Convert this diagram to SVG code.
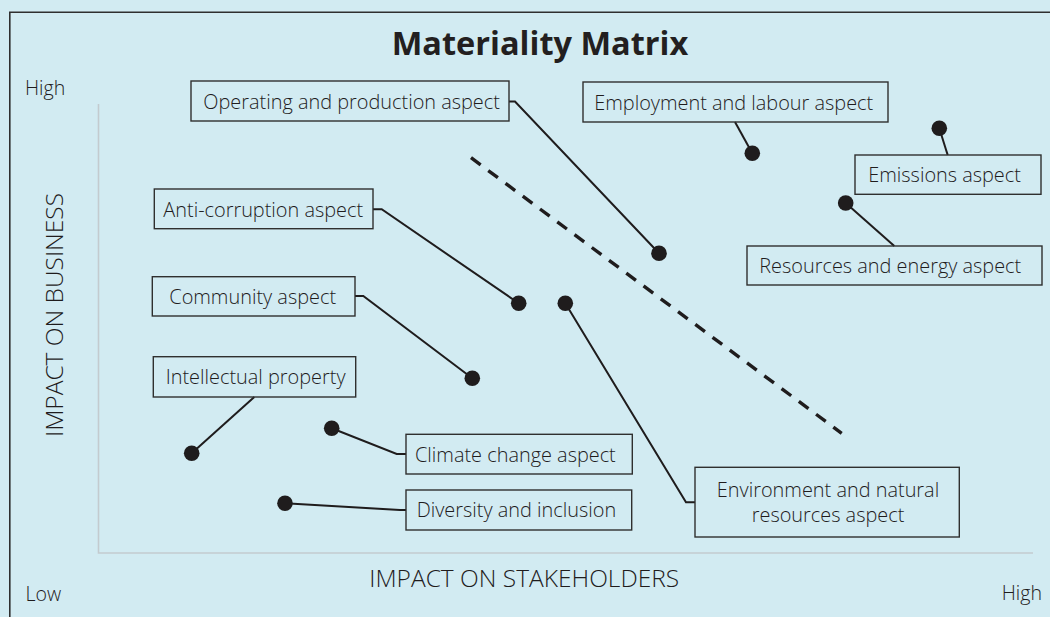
<svg xmlns="http://www.w3.org/2000/svg" width="1050" height="617" viewBox="0 0 1050 617">
  <style>
    .lbl { font-family: "Open Sans", "Noto Sans", sans-serif; font-size: 19.9px; font-weight: 300; fill: #1f1c1d; }
    .axis-text { font-family: "Open Sans", "Noto Sans", sans-serif; font-size: 24.5px; font-weight: 300; fill: #1f1c1d; }
    .end-text { font-family: "Open Sans", "Noto Sans", sans-serif; font-size: 19.6px; font-weight: 300; fill: #1f1c1d; }
    .title { font-family: "Open Sans", "Noto Sans", sans-serif; font-size: 32.5px; font-weight: bold; fill: #231f20; }
    .box { fill: none; stroke: #2f2f2f; stroke-width: 1.4; }
    .link { fill: none; stroke: #1f1c1d; stroke-width: 2; stroke-linejoin: miter; }
    .dot { fill: #1f1c1d; }
    .axis { fill: none; stroke: #c3cbcf; stroke-width: 1.6; }
  </style>

  <!-- background and frame -->
  <rect x="0" y="0" width="1050" height="617" fill="#d2ebf2"/>
  <path d="M9.8 640 V12.3 H1060" fill="none" stroke="#2f2f2f" stroke-width="1.6"/>

  <!-- title -->
  <text class="title" x="540" y="55" text-anchor="middle">Materiality Matrix</text>

  <!-- axes -->
  <g id="axes">
    <path class="axis" d="M98.5 104 V553 H1033"/>
    <text class="end-text" x="25" y="95">High</text>
    <text class="end-text" x="25.5" y="601">Low</text>
    <text class="end-text" x="1042" y="600" text-anchor="end">High</text>
    <text class="axis-text" transform="translate(63 315) rotate(-90)" text-anchor="middle">IMPACT ON BUSINESS</text>
    <text class="axis-text" x="369.3" y="586.7">IMPACT ON STAKEHOLDERS</text>
  </g>

  <!-- threshold line -->
  <path d="M471 157.7 L841.7 433.3" fill="none" stroke="#1f1c1d" stroke-width="3.4" stroke-dasharray="12 9.5"/>

  <!-- connectors -->
  <g id="connectors">
    <path class="link" d="M509 101.6 H515 L659 253.3"/>
    <path class="link" d="M735 122 L752.3 153.3"/>
    <path class="link" d="M947.7 155 L939.3 128.3"/>
    <path class="link" d="M894.3 246 L845.7 203"/>
    <path class="link" d="M373 209.3 H381.7 L518.7 303.3"/>
    <path class="link" d="M355 296 H363.3 L472.3 378.3"/>
    <path class="link" d="M254.3 397 L191.7 453.3"/>
    <path class="link" d="M406 454 H396.7 L331.7 428.3"/>
    <path class="link" d="M406 510 H400 L285 503.3"/>
    <path class="link" d="M695 502.3 H686 L565.3 303.3"/>
    <circle class="dot" cx="659" cy="253.3" r="7.8"/>
    <circle class="dot" cx="752.3" cy="153.3" r="7.8"/>
    <circle class="dot" cx="939.3" cy="128.3" r="7.8"/>
    <circle class="dot" cx="845.7" cy="203" r="7.8"/>
    <circle class="dot" cx="518.7" cy="303.3" r="7.8"/>
    <circle class="dot" cx="565.3" cy="303.3" r="7.8"/>
    <circle class="dot" cx="472.3" cy="378.3" r="7.8"/>
    <circle class="dot" cx="191.7" cy="453.3" r="7.8"/>
    <circle class="dot" cx="331.7" cy="428.3" r="7.8"/>
    <circle class="dot" cx="285" cy="503.3" r="7.8"/>
  </g>

  <!-- aspect labels -->
  <g id="operating">
    <rect class="box" x="191" y="81" width="318" height="40"/>
    <text class="lbl" x="203.3" y="109.3">Operating and production aspect</text>
  </g>
  <g id="employment">
    <rect class="box" x="583" y="82" width="305" height="40"/>
    <text class="lbl" x="594.3" y="110">Employment and labour aspect</text>
  </g>
  <g id="emissions">
    <rect class="box" x="855" y="155" width="186" height="39.3"/>
    <text class="lbl" x="868.3" y="181.7">Emissions aspect</text>
  </g>
  <g id="resources">
    <rect class="box" x="747" y="246" width="295" height="39"/>
    <text class="lbl" x="759.3" y="273.3">Resources and energy aspect</text>
  </g>
  <g id="anticorruption">
    <rect class="box" x="154.3" y="189" width="218.7" height="39.7"/>
    <text class="lbl" x="163.3" y="216.7">Anti-corruption aspect</text>
  </g>
  <g id="community">
    <rect class="box" x="152.3" y="276.7" width="202.7" height="39.3"/>
    <text class="lbl" x="169.3" y="304">Community aspect</text>
  </g>
  <g id="intellectual">
    <rect class="box" x="153.3" y="356.7" width="202.4" height="40.3"/>
    <text class="lbl" x="165.7" y="384">Intellectual property</text>
  </g>
  <g id="climate">
    <rect class="box" x="406" y="434.3" width="226.3" height="39.7"/>
    <text class="lbl" x="415" y="462.3">Climate change aspect</text>
  </g>
  <g id="diversity">
    <rect class="box" x="406" y="490" width="225.7" height="40"/>
    <text class="lbl" x="416.7" y="517.3">Diversity and inclusion</text>
  </g>
  <g id="environment">
    <rect class="box" x="695" y="467.3" width="264.3" height="69.7"/>
    <text class="lbl" x="828" y="497.3" text-anchor="middle">Environment and natural</text>
    <text class="lbl" x="828" y="521.7" text-anchor="middle">resources aspect</text>
  </g>
</svg>
